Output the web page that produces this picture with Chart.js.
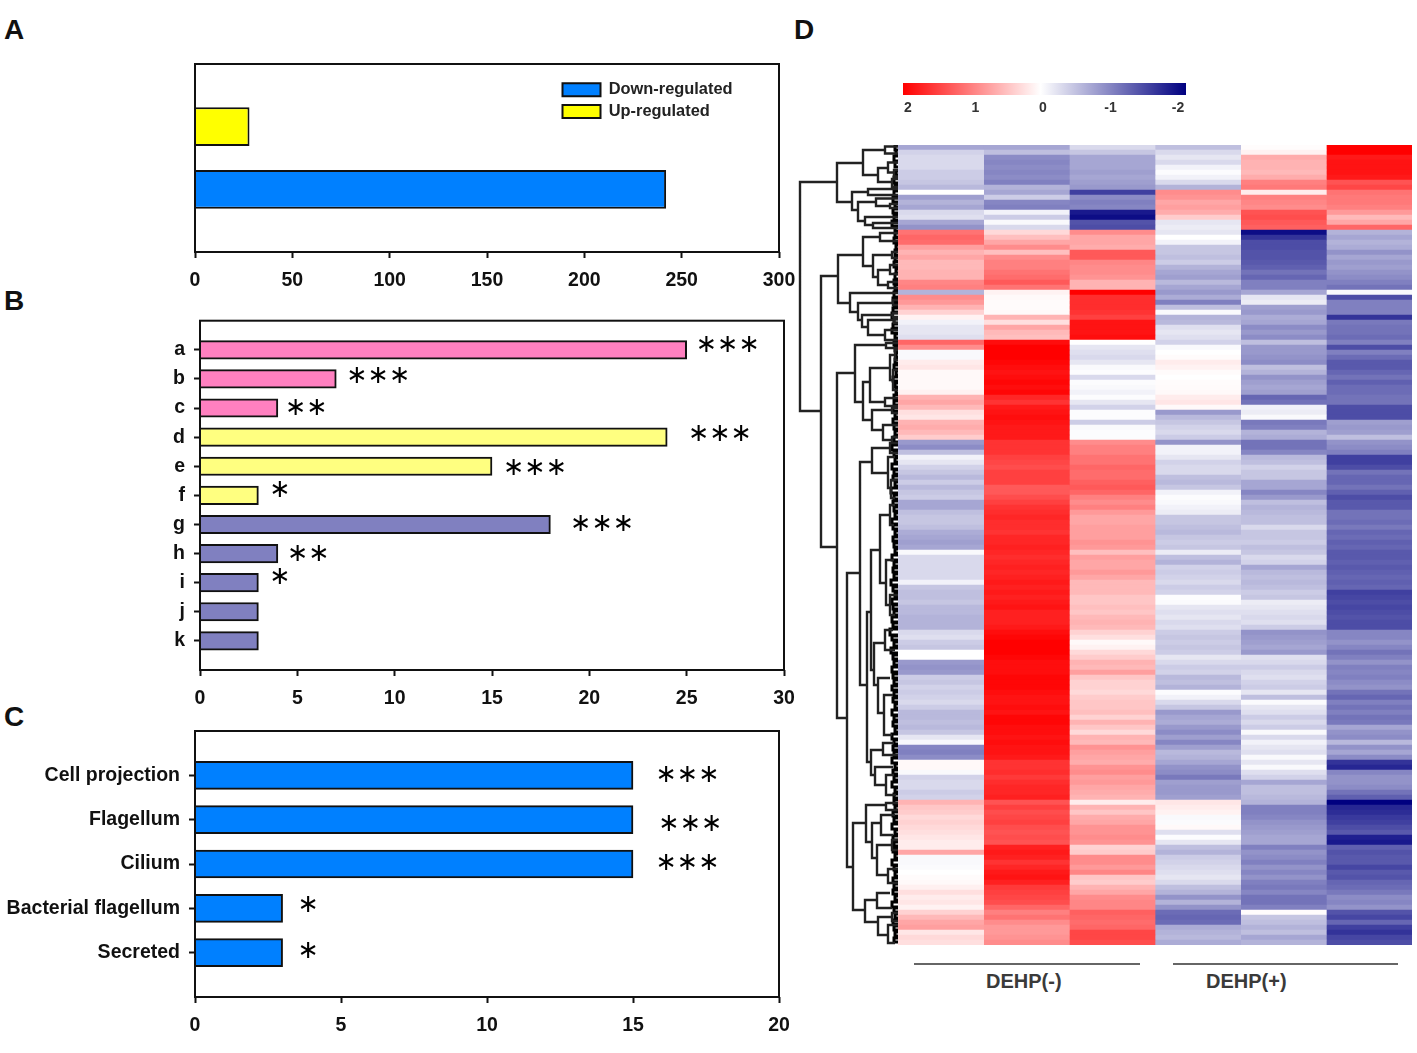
<!DOCTYPE html>
<html><head><meta charset="utf-8">
<style>
html,body{margin:0;padding:0;background:#fff;width:1417px;height:1053px;overflow:hidden;font-family:"Liberation Sans",Arial,sans-serif}
canvas{position:absolute;display:block}
#heat{filter:blur(.7px)}
.t{position:absolute;font-weight:bold;color:#111;white-space:nowrap;line-height:1}
.l{position:absolute;height:1.5px;background:#666}
</style>
<script src="https://cdn.jsdelivr.net/npm/chart.js@4/dist/chart.umd.min.js"></script>
</head><body>
<div class="t" style="left:4px;top:16px;font-size:28px">A</div>
<div class="t" style="left:4px;top:287px;font-size:28px">B</div>
<div class="t" style="left:4px;top:703px;font-size:28px">C</div>
<div class="t" style="left:794px;top:16px;font-size:28px">D</div>
<canvas id="a" width="810" height="260" style="left:0;top:40px"></canvas>
<canvas id="b" width="810" height="420" style="left:0;top:300px"></canvas>
<canvas id="c" width="810" height="343" style="left:0;top:710px"></canvas>
<canvas id="bar" width="320" height="40" style="left:890px;top:83px"></canvas>
<canvas id="den" width="100" height="800" style="left:798px;top:145px"></canvas>
<canvas id="heat" width="514" height="800" style="left:898px;top:145px"></canvas>
<div class="l" style="left:914px;top:963px;width:226px"></div>
<div class="l" style="left:1173px;top:963px;width:225px"></div>
<div class="t" style="left:986px;top:971px;font-size:20px;color:#3a3a3a">DEHP(-)</div>
<div class="t" style="left:1206px;top:971px;font-size:20px;color:#3a3a3a">DEHP(+)</div>
<script>
/* Panel A */
const aSeries = ['Up-regulated','Down-regulated'];
const aValues = [28,242];
/* Panel B */
const bCats = ['','a','b','c','d','e','f','g','h','i','j','k',''];
const bValues = [null,25,7,4,24,15,3,18,4,3,3,3,null];
const bStarCats = ['a','b','c','d','e','f','g','h','i'];
const bStarText = ['∗∗∗','∗∗∗','∗∗','∗∗∗','∗∗∗','∗','∗∗∗','∗∗','∗'];
const bStarX = [25.45,7.5,4.35,25.05,15.55,3.55,19,4.45,3.55];
/* Panel C */
const cCats = ['','Cell projection','Flagellum','Cilium','Bacterial flagellum','Secreted',''];
const cValues = [null,15,15,15,3,3,null];
const cStarCats = ['Cell projection','Flagellum','Cilium','Bacterial flagellum','Secreted'];
const cStarText = ['∗∗∗','∗∗∗','∗∗∗','∗','∗'];
const cStarX = [15.76,15.86,15.76,3.5,3.5];
/* Panel D: z-scores by heat-map row, one array per sample column */
const col1 = [-.7,-.35,-.3,-.3,-.3,-.4,-.4,-.45,-.55,0,
-.75,-.6,-.7,-.3,-.25,-.7,-.85,1.1,1.2,1.15,
.75,.6,.7,.55,.55,.6,.6,.95,1,-.6,
.9,.8,.6,.35,.1,-.1,-.2,-.2,-.25,1.2,
.9,-.05,-.05,.15,.2,.05,.05,.05,.05,.1,
.6,.7,.55,.25,.2,.6,.65,.55,.4,-.8,
-.9,-.5,-.1,-.2,-.35,-.45,-.55,-.4,-.55,-.45,
-.4,-.7,-.7,-.5,-.45,-.45,-.5,-.65,-.7,-.75,
-.7,-.05,-.3,-.3,-.3,-.3,-.3,-.1,-.45,-.5,
-.5,-.45,-.55,-.55,-.6,-.6,-.6,-.3,-.25,-.4,
-.45,0,0,-.8,-.85,-.8,-.4,-.45,-.35,-.4,
-.35,-.3,-.4,-.55,-.55,-.5,-.55,-.45,-.2,-.05,
-.95,-1,-.9,.05,.05,-.05,-.35,-.3,-.3,-.4,
-.35,.6,.45,.4,.3,.35,.3,.25,.2,.15,
.15,.7,-.05,-.05,-.03,0,.03,.05,.12,.25,
.15,.2,.1,.35,.55,.7,.75,.2,.3,.25];
const col2 = [-.7,-.5,-.9,-.95,-.9,-.95,-.9,-1,-.6,-.7,
-.4,-.95,-1,-.1,-.4,-.05,-.3,.3,.5,.7,
.9,.5,.9,1,1,1.1,1.15,1.3,1.1,.1,
.05,.03,.03,.05,.6,.25,.7,.55,.5,1.9,
2,2,2,1.95,1.9,1.85,1.9,1.95,1.9,1.95,
1.7,1.6,1.8,1.85,1.9,1.85,1.8,1.8,1.8,1.6,
1.6,1.6,1.5,1.45,1.4,1.5,1.5,1.5,1.3,1.3,
1.4,1.5,1.6,1.65,1.7,1.65,1.65,1.6,1.7,1.7,
1.75,1.7,1.65,1.7,1.75,1.7,1.75,1.8,1.75,1.8,
1.75,1.8,1.85,1.75,1.75,1.75,1.8,1.9,1.95,2,
2,2,1.95,1.9,1.9,1.9,1.95,1.95,1.95,1.9,
1.85,1.85,1.9,1.85,1.95,1.95,1.9,1.9,1.85,1.9,
1.85,1.85,1.8,1.6,1.6,1.65,1.55,1.65,1.7,1.7,
1.75,1.35,1.5,1.4,1.45,1.5,1.4,1.35,1.4,1.35,
1.75,1.8,1.75,1.6,1.7,1.8,1.85,1.75,1.55,1.5,
1.45,1.4,1.2,1,1.1,.9,.8,.8,.85,.9];
const col3 = [-.3,-.45,-.7,-.7,-.7,-.75,-.7,-.75,-.8,-1.5,
-.9,-1,-.95,-1.8,-1.9,-1.35,-1.4,.9,.7,.7,
.65,1.3,1.3,.95,.9,.9,.85,.6,.6,2,
1.65,1.65,1.65,1.6,1.5,1.85,1.85,1.85,1.9,0,
-.2,-.25,-.3,-.2,-.05,-.02,-.3,-.02,-.05,-.1,
-.02,-.2,-.35,-.02,-.02,-.4,-.05,-.02,-.02,.9,
1,1,1.1,1.1,1.2,1.15,1.15,1.25,1.3,1.2,
1,.9,1,.8,.7,.7,.75,.75,.75,.85,
.8,.5,.75,.7,.7,.8,.7,.55,.55,.55,
.45,.45,.5,.45,.55,.6,.55,.35,.25,.05,
.1,.3,.4,.6,.55,.75,.45,.35,.35,.3,
.4,.45,.45,.5,.35,.6,.45,.3,.6,.55,
.85,.75,.7,.65,.85,.9,.75,.8,.7,.65,
.6,.15,.6,.45,.65,.7,.85,.85,.9,.85,
.35,.4,.9,.9,.8,.95,.45,.4,.6,.7,
.9,.95,.95,1.25,1.2,1.15,1.2,1.45,1.45,1.4];
const col4 = [-.5,-.3,-.2,-.3,-.1,-.02,-.1,-.3,-.6,.9,
.85,.7,.75,.65,.4,-.2,-.15,-.2,0,-.1,
-.45,-.45,-.5,-.4,-.6,-.7,-.75,-.55,-.7,-.8,
-.65,-1,-.5,-.05,-.6,-.55,-.25,-.2,-.25,-.35,
-.05,0,.03,.15,.1,.03,0,.02,.03,.05,
.15,.2,.05,-.8,-.55,-.45,-.35,-.3,-.4,-.85,
-.1,-.1,-.2,-.35,-.3,-.3,-.5,-.55,-.45,-.1,
-.02,-.05,-.1,-.15,-.45,-.45,-.5,-.55,-.45,-.4,
-.45,-.15,-.5,-.6,-.35,-.4,-.35,-.3,-.4,-.35,
-.02,-.03,-.2,-.25,-.2,-.3,-.25,-.4,-.45,-.4,
-.45,-.4,-.2,-.3,-.4,-.35,-.55,-.5,-.6,-.02,
-.1,-.3,-.45,-.8,-.7,-.65,-.8,-.9,-.75,-.95,
-.75,-.55,-.6,-.7,-.85,-.9,-1.05,-.75,-.8,-.8,
-.75,.2,.15,.1,-.05,-.03,.05,-.25,-.02,-.2,
-.5,-.6,-.4,-.35,-.3,-.25,-.2,-.3,-.5,-.6,
-.85,-.6,-.85,-1.15,-1.2,-1.15,-.65,-.6,-.55,-.65];
const col5 = [.02,.1,.65,.6,.6,.55,.65,1,1.05,.15,
1,.95,.9,1.35,1.4,1.3,1.25,-1.9,-1.6,-1.4,
-1.4,-1.35,-1.35,-1.3,-1.25,-1.1,-1.2,-1,-1,-.7,
-.2,-.15,-.75,-.8,-.65,-.7,-.9,-.8,-.9,-.5,
-.8,-.8,-.85,-.9,-.5,-.6,-.85,-.75,-.7,-.75,
-1.2,-1.1,-.1,-.15,-.05,-1.05,-1,-.6,-.65,-1.1,
-1.1,-.95,-.55,-.5,-.35,-.45,-.45,-.7,-.7,-.95,
-.8,-.5,-.6,-.55,-.5,-.5,-.3,-.45,-.45,-.4,
-.5,-.45,-.3,-.35,-.7,-.55,-.5,-.55,-.5,-.4,
-.45,-.15,-.2,-.25,-.3,-.25,-.4,-.85,-.8,-.75,
-.7,-.8,-.25,-.3,-.4,-.3,-.25,-.35,-.4,-.2,
-.5,-.03,-.2,-.25,-.4,-.3,-.4,-.05,-.3,-.1,
-.2,-.25,-.05,-.2,-.05,-.25,-.35,-.7,-.5,-.5,
-.55,-.6,-1,-1,-.95,-.85,-.8,-.75,-.7,-.7,
-1,-.85,-.9,-1,-.85,-.95,-.85,-1,-1.05,-.95,
-1.1,-1.1,-1,.02,-.45,-.5,-.6,-.5,-.7,-.6];
const col6 = [2,2,1.8,1.85,1.85,1.85,1.8,1.35,1.45,1.1,
1.05,1.05,1,.8,.55,.7,1.2,-.6,-.7,-.6,
-.65,-.85,-.7,-.8,-.75,-.85,-.9,-1,-1.1,-.05,
-1.4,-1,-1,-1,-1.6,-1.05,-1.1,-1.1,-1.15,-1,
-1.4,-1,-1.15,-1.3,-1.3,-1.2,-1.1,-1.25,-1.15,-1.15,
-1.1,-1.1,-1.4,-1.4,-1.4,-.75,-.8,-.75,-.5,-.85,
-.9,-1,-1.5,-1.5,-1.4,-1.1,-1.2,-1.2,-1.1,-1.25,
-1.4,-1.3,-1.3,-1.1,-1.1,-1.15,-1.05,-1.2,-1.15,-1.25,
-1.2,-1.3,-1.3,-1.25,-1.3,-1.25,-1.2,-1.25,-1.2,-1.5,
-1.45,-1.4,-1.45,-1.4,-1.35,-1.4,-1.4,-.95,-.95,-.85,
-.95,-1.1,-1,-.85,-1,-.95,-1,-.9,-.85,-1.1,
-1.2,-1,-1.1,-1,-1.1,-1.05,-.7,-.85,-.9,-.55,
-.85,-.7,-.9,-1.6,-1.7,-.95,-.85,-.85,-.9,-1.1,
-1.25,-2,-1.7,-1.65,-1.55,-1.5,-1.4,-1.3,-1.75,-1.8,
-1.25,-1.35,-1.3,-1.3,-1.45,-1.3,-1.35,-1.2,-1.15,-1.05,
-.9,-.95,-.85,-1.35,-1.45,-1.2,-1.5,-1.6,-1.45,-1.4];
const heatCols = [col1,col2,col3,col4,col5,col6];
const barTicks = [2,1,0,-1,-2];
/* Row dendrogram: [node height, upper row, upper child height, lower row, lower child height] */
const branches = [
[98,7.4,61,53.2,77],[61,3.6,35,11.4,46],[35,1,13,6,20],[13,.3,0,1.7,0],[20,4.6,10,7.4,6],[10,3.5,0,5.5,4],[4,5,0,6.3,0],[6,6.8,0,8.4,0],
[46,9.4,30,13,40],[30,8.8,0,10,0],[40,11.4,22,15.2,33],[22,10.7,0,12.2,8],[8,11.8,0,12.6,0],[33,14.4,0,16,25],[25,15.6,0,16.6,0],
[77,26.2,60,80.4,61],[60,22,35,31.6,48],[35,18.4,18,24.2,25],[18,17.6,0,19.2,0],[25,22,6,26.4,20],[6,21.4,0,22.6,0],[20,25,8,28,10],[8,24,0,25.8,0],[10,27.4,0,28.6,0],
[48,29.6,0,33.4,40],[40,31.6,5,35,36],[36,34,5,36.4,30],[30,35,4,38,13],[13,37,0,39,0],[5,31,0,32,0],[5,33.6,0,34.4,0],[4,34.8,0,35.6,0],
[61,45.6,43,114.6,51],[43,40,12,51.4,35],[12,39.6,0,40.6,0],[35,47.4,28,55,26],[28,44.6,8,51.4,13],[8,42,3,47,5],[3,41,0,43,0],[5,45,0,49,0],[13,50.6,0,52.2,0],
[26,53,6,57,15],[6,52.6,0,53.6,0],[15,56,0,59,6],[6,58.4,0,59.6,0],
[51,85.6,38,144.4,45],[38,63.4,26,108,31],[26,60.6,8,65.6,10],[8,59.6,0,61.6,0],[10,62.4,3,68.6,7],[7,67,0,70.6,3],
[31,93.4,27,123.4,27],[27,81,18,105,24],[18,74,8,87.6,12],[8,72,3,76,4],[12,83,4,92,8],[8,90,0,94,3],
[24,99.6,13,108,20],[13,97,5,101,3],[20,106.6,8,113.6,14],[14,110,5,118,6],
[27,121,15,126,23],[15,119.6,4,122,0],[23,124.4,5,128,12],[12,126,4,130,2],
[45,135.6,32,153,33],[32,132,12,139.4,26],[12,131.6,0,133,0],[26,135.6,17,142.6,21],[17,134,3,138,5],[21,140,6,146,10],[6,139,0,141,0],[10,144.8,0,147.6,0],
[33,151,21,155.4,20],[21,149.6,8,152.6,6],[20,154.4,6,158,10],[6,153.6,0,155.2,0],[10,156,0,159.6,3]
];
/* Leaf twigs: [node height, upper row, lower row] */
const twigs = [
[3,.1,1],[2,1,2],[4,2.2,3.2],[3,3.4,4.4],[2,5.2,6],[4,6.4,7.6],[3,8,8.8],[4,9.2,10.2],[5,10.4,11.4],[3,11.6,12.4],[5,12.8,13.6],[4,14,15],[6,15.2,16.2],[3,16.4,17.2],
[3,17.6,18.4],[4,18.6,19.6],[2,20,20.8],[3,21,22],[3,22.4,23.2],[4,23.4,24.4],[2,24.8,25.6],[3,25.8,26.8],[4,27,27.8],[3,28,28.8],
[4,29.4,30.4],[5,30.6,31.4],[4,31.6,32.4],[5,32.6,33.4],[6,33.6,34.6],[4,34.8,35.6],[5,35.8,36.6],[6,36.8,37.6],[3,37.8,38.6],
[4,39.2,40],[3,40.4,41.2],[2,41.6,42.4],[3,42.8,43.6],[4,44,44.8],[2,45.2,46],[5,46.4,47.2],[3,47.6,48.4],[2,48.8,49.6],[4,50,50.8],[4,51.2,52],[5,52.4,53.2],[3,53.6,54.4],[5,54.8,55.6],[4,56,56.8],[3,57.2,58],[4,58.4,59.4],
[6,60,61],[4,61.4,62.2],[3,62.6,63.4],[6,63.8,64.8],[4,65,65.8],[5,66.2,67],[3,67.4,68.2],[7,68.6,69.6],[4,70,70.8],[5,71.2,72],[4,72.4,73.2],[3,73.6,74.4],[6,74.8,75.8],[5,76,76.8],[3,77.2,78],[5,78.4,79.2],[4,79.6,80.4],[3,80.8,81.6],
[6,82,83],[4,83.4,84.2],[5,84.6,85.4],[4,85.8,86.6],[7,87,88],[5,88.4,89.2],[3,89.6,90.4],[6,90.8,91.8],[5,92,92.8],[4,93.2,94],[6,94.4,95.4],[5,95.6,96.4],[8,96.8,98],[6,98.2,99],[4,99.4,100.2],[7,100.6,101.6],[5,102,102.8],[4,103.2,104],[6,104.4,105.4],
[5,105.8,106.6],[4,107,107.8],[6,108.2,109],[4,109.4,110.2],[5,110.6,111.4],[3,111.8,112.6],[6,113,114],[4,114.2,115],[5,115.4,116.2],[3,116.6,117.4],[6,117.8,118.8],[4,119,119.8],[5,120.2,121],[4,121.4,122.2],[6,122.6,123.6],[3,123.8,124.6],[5,125,125.8],[4,126.2,127],[6,127.4,128.4],[3,128.6,129.4],[4,129.8,130.6],
[4,131,131.8],[3,132.2,133],[5,133.4,134.2],[4,134.6,135.4],[6,135.8,136.8],[3,137,137.8],[5,138.2,139],[4,139.4,140.2],[5,140.6,141.4],[3,141.8,142.6],[6,143,144],[4,144.2,145],[3,145.4,146.2],[5,146.6,147.4],[4,147.8,148.6],[5,149,149.8],[3,150.2,151],[6,151.4,152.4],[4,152.6,153.4],[3,153.8,154.6],[5,155,155.8],[4,156.2,157],[3,157.4,158.2],[4,158.6,159.4]
];

/* ---- helpers ---- */
const FONT = '"Liberation Sans", Arial, sans-serif';
const INK = '#111';
const tickFont = {family:FONT, size:19.5, weight:'bold'};
Chart.defaults.animation = false;
Chart.defaults.responsive = false;
Chart.defaults.color = INK;

const framePlugin = {id:'frame', afterDraw(ch){
  const o = ch.options.plugins.frame; if(!o||!o.on) return;
  const {left,top,width,height} = ch.chartArea, c = ch.ctx;
  c.save(); c.strokeStyle = INK; c.lineWidth = 2; c.strokeRect(left,top,width,height); c.restore();
}};
const starPlugin = {id:'stars', afterDatasetsDraw(ch){
  const o = ch.options.plugins.stars; if(!o||!o.text) return;
  const c = ch.ctx; c.save(); c.fillStyle = '#000'; c.font = '25.5px "DejaVu Sans"'; c.textAlign='left'; c.textBaseline='middle';
  o.text.forEach((s,i)=>{ c.fillText(s, ch.scales.x.getPixelForValue(o.x[i]), ch.scales.y.getPixelForValue(o.cats[i]) + o.shift[i]); });
  c.restore();
}};
const legendMove = {id:'legendMove', beforeDraw(ch){
  const o = ch.options.plugins.legendMove; if(!o||!o.left) return;
  ch.legend.left = o.left; ch.legend.top = o.top;
}};
Chart.register(framePlugin, starPlugin, legendMove);

function xAxis(max, step, h){
  return {type:'linear', min:0, max, position:'bottom',
    ticks:{stepSize:step, font:tickFont, padding:11, color:INK, maxRotation:0, autoSkip:false},
    grid:{drawOnChartArea:false, drawTicks:true, tickLength:6, tickWidth:2, tickColor:INK},
    border:{display:false}, afterFit(s){s.height=h;}};
}
function yAxis(w){
  return {type:'category', offset:false, position:'left',
    ticks:{font:tickFont, padding:9, color:INK, autoSkip:false},
    grid:{offset:false, drawOnChartArea:false, drawTicks:true, tickLength:6, tickWidth:2,
      tickColor:ctx=>ctx.tick&&ctx.tick.label!==''?INK:'rgba(0,0,0,0)'},
    border:{display:false}, afterFit(s){s.width=w;}};
}

/* ---- Panel A ---- */
new Chart(document.getElementById('a'),{type:'bar',
  data:{labels:[''],datasets:[
    {label:aSeries[0],data:[aValues[0]],backgroundColor:'#FFFF00',borderColor:INK,borderWidth:2},
    {label:aSeries[1],data:[aValues[1]],backgroundColor:'#0080FF',borderColor:INK,borderWidth:2}]},
  options:{indexAxis:'y',barPercentage:.615,categoryPercentage:.67,
    layout:{autoPadding:false,padding:{left:195,top:24,right:31,bottom:0}},
    scales:{x:xAxis(300,50,48),y:{display:false}},
    plugins:{frame:{on:true},tooltip:{enabled:false},legendMove:{left:557,top:36},
      legend:{position:'chartArea',align:'start',reverse:true,
        labels:{boxWidth:38,boxHeight:13,padding:5.5,color:'#222',font:{family:FONT,size:16.4,weight:'bold'}}}}}
});

/* ---- Panel B ---- */
const bColors = ['','#FF80C0','#FF80C0','#FF80C0','#FFFF80','#FFFF80','#FFFF80','#8080C0','#8080C0','#8080C0','#8080C0','#8080C0',''];
new Chart(document.getElementById('b'),{type:'bar',
  data:{labels:bCats,datasets:[{data:bValues,backgroundColor:bColors,borderColor:INK,borderWidth:2,barThickness:18.5}]},
  options:{indexAxis:'y',
    layout:{autoPadding:false,padding:{top:18,right:26,bottom:0,left:0}},
    scales:{x:xAxis(30,5,50),y:yAxis(200)},
    plugins:{frame:{on:true},legend:{display:false},tooltip:{enabled:false},
      stars:{text:bStarText,x:bStarX,cats:bStarCats,shift:[-4,-3,0,-3,2,-5,0,1,-5]}}}
});

/* ---- Panel C ---- */
new Chart(document.getElementById('c'),{type:'bar',
  data:{labels:cCats,datasets:[{data:cValues,backgroundColor:'#0080FF',borderColor:INK,borderWidth:2,barThickness:28}]},
  options:{indexAxis:'y',
    layout:{autoPadding:false,padding:{top:21,right:31,bottom:0,left:0}},
    scales:{x:xAxis(20,5,56),y:yAxis(195)},
    plugins:{frame:{on:true},legend:{display:false},tooltip:{enabled:false},
      stars:{text:cStarText,x:cStarX,cats:cStarCats,shift:[0,5,-1,-3,-1]}}}
});

/* ---- Panel D colour key ---- */
function heatColor(z){
  if(z>=0){const v=Math.round(255*(1-Math.min(z,2)/2));return `rgb(255,${v},${v})`;}
  const t=Math.min(-z,2)/2, v=Math.round(255*(1-t)), b=Math.round(255-127*t);
  return `rgb(${v},${v},${b})`;
}
new Chart(document.getElementById('bar'),{type:'bar',
  data:{labels:[''],datasets:[{data:[[2.074,-2.119]],
    backgroundColor(ctx){
      const a=ctx.chart.chartArea; if(!a) return '#fff';
      const g=ctx.chart.ctx.createLinearGradient(a.left,0,a.right,0);
      const w=.486;
      g.addColorStop(0,heatColor(2)); g.addColorStop(w/2,heatColor(1)); g.addColorStop(w,heatColor(0));
      g.addColorStop((1+w)/2,heatColor(-1)); g.addColorStop(1,heatColor(-2));
      return g;
    },barPercentage:1,categoryPercentage:1}]},
  options:{indexAxis:'y',
    layout:{autoPadding:false,padding:{left:13,right:24,top:0,bottom:0}},
    scales:{
      x:{type:'linear',min:-2.119,max:2.074,reverse:true,
        afterBuildTicks(s){s.ticks=barTicks.map(v=>({value:v}));},
        ticks:{font:{family:FONT,size:14,weight:'bold'},color:'#333',padding:-3,autoSkip:false,maxRotation:0,callback:v=>String(v)},
        grid:{display:false},border:{display:false},afterFit(s){s.height=28;}},
      y:{display:false}},
    plugins:{legend:{display:false},tooltip:{enabled:false}}}
});

/* ---- Panel D dendrogram ---- */
const denPts = [];
branches.forEach(b=>{denPts.push({x:b[2],y:b[1]},{x:b[0],y:b[1]},{x:b[0],y:b[3]},{x:b[4],y:b[3]},{x:null,y:null});});
const twigPts = [];
twigs.forEach(t=>{twigPts.push({x:0,y:t[1]},{x:t[0],y:t[1]},{x:t[0],y:t[2]},{x:0,y:t[2]},{x:null,y:null});});
new Chart(document.getElementById('den'),{type:'scatter',
  data:{datasets:[
    {data:denPts,showLine:true,spanGaps:false,borderColor:'#222',borderWidth:2.4,pointRadius:0,tension:0},
    {data:twigPts,showLine:true,spanGaps:false,borderColor:'#000',borderWidth:3,pointRadius:0,tension:0}]},
  options:{layout:{autoPadding:false,padding:0},
    scales:{x:{type:'linear',min:0,max:100,reverse:true,display:false},y:{type:'linear',min:0,max:160,reverse:true,display:false}},
    plugins:{legend:{display:false},tooltip:{enabled:false}}}
});

/* ---- Panel D heat map ---- */
const rowLabels = col1.map((_,i)=>String(i));
new Chart(document.getElementById('heat'),{type:'bar',
  data:{labels:rowLabels,datasets:heatCols.map((col,c)=>({
    data:col.map(()=>[c,c+1]),backgroundColor:col.map(heatColor),
    borderWidth:0,barPercentage:1,categoryPercentage:1,grouped:false}))},
  options:{indexAxis:'y',layout:{autoPadding:false,padding:0},
    scales:{x:{type:'linear',min:0,max:6,display:false},y:{type:'category',display:false}},
    plugins:{legend:{display:false},tooltip:{enabled:false}}}
});
</script>
</body></html>
